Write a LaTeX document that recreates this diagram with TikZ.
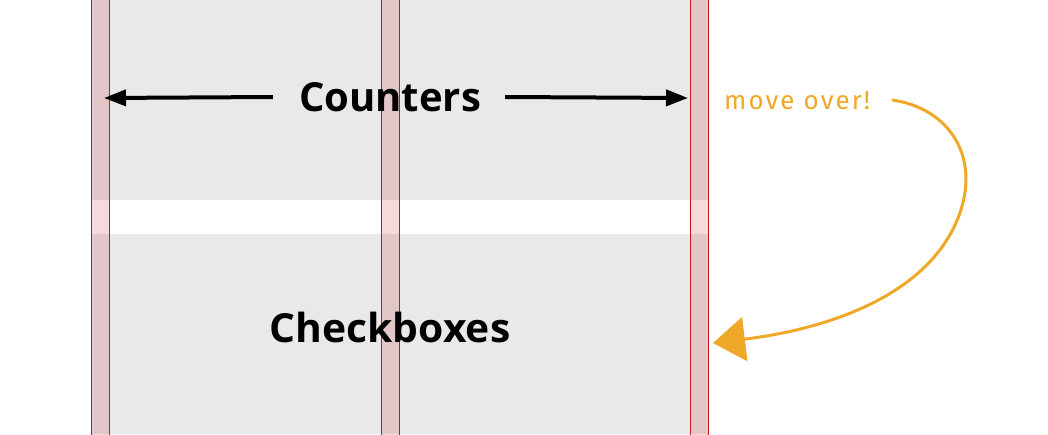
\documentclass[tikz,border=0pt]{standalone}
\usepackage{fontspec}
\setmainfont{Open Sans}
\newfontfamily\handfont[LetterSpace=8]{Fira Sans}
\usetikzlibrary{arrows.meta}
\definecolor{panelgray}{RGB}{233,233,233}
\definecolor{colred}{RGB}{200,20,30}
\definecolor{hand}{RGB}{240,168,40}
\tikzset{
  panel/.style={fill=panelgray, draw=none},
  column/.style={fill=colred, fill opacity=0.16, draw=colred, line width=1pt},
  label/.style={font=\bfseries\fontsize{40}{40}\selectfont, inner sep=0pt},
  measure/.style={line width=4pt, -{Triangle[length=22pt,width=16pt]}},
  note/.style={font=\handfont\fontsize{26}{26}\selectfont, text=hand, inner sep=0pt},
  movearrow/.style={draw=hand, line width=3pt, -{Triangle[length=32pt,width=44pt]}}
}
\begin{document}
\begin{tikzpicture}[x=1pt,y=-1pt]
\useasboundingbox (0,0) rectangle (1048,434);
\fill[white] (0,0) rectangle (1048,434);
% panels
\path[panel] (91,0) rectangle (708,200);
\path[panel] (91,234) rectangle (708,434);
% columns
\path[column] (91,-2) rectangle (109,436);
\path[column] (381,-2) rectangle (399,436);
\path[column] (690,-2) rectangle (708,436);
% labels
\node[label] (counters) at (390,97) {Counters};
\node[label, xscale=1.02] (checkboxes) at (390,327) {Checkboxes};
\coordinate (cl) at (104,98);
\coordinate (cr) at (688,98);
\draw[measure] (counters.west) ++(-26pt,0) coordinate (al) -- (cl);
\draw[measure] (counters.east) ++(24pt,0) coordinate (ar) -- (cr);
% note
\node[note, anchor=west] (move) at (724,101) {move over!};
\coordinate (target) at (713,343);
\draw[movearrow] (892,100) .. controls (950,108) and (985,160) .. (955,225)
  .. controls (920,300) and (820,330) .. (target);
\end{tikzpicture}
\end{document}
